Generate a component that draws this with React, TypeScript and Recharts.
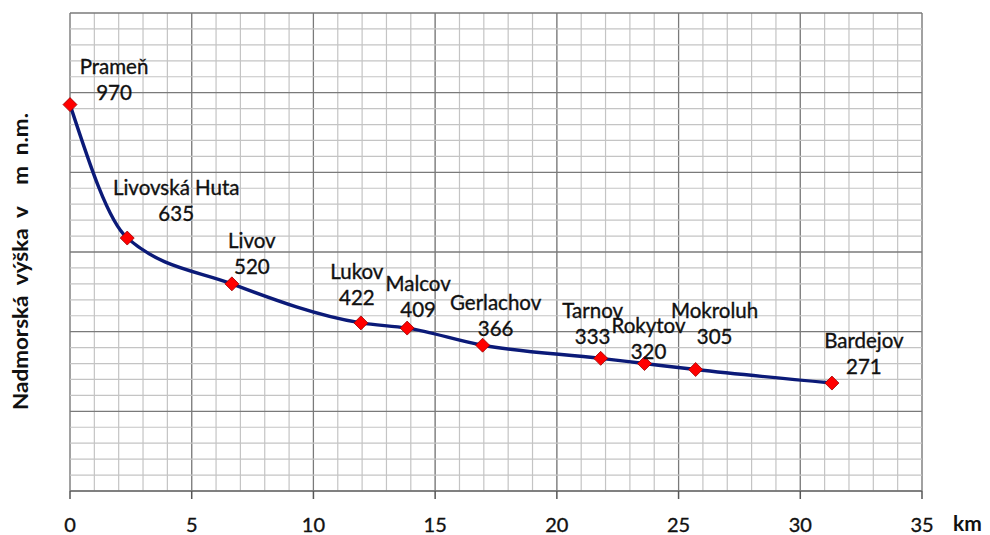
import React from "react";
import {
  LineChart,
  Line,
  XAxis,
  YAxis,
  CartesianGrid,
  LabelList,
  Label,
  ReferenceLine,
} from "recharts";

// ---- data ----
const placeNames = [
  "Prameň",
  "Livovská Huta",
  "Livov",
  "Lukov",
  "Malcov",
  "Gerlachov",
  "Tarnov",
  "Rokytov",
  "Mokroluh",
  "Bardejov",
];
const kmValues = [0, 2.35, 6.65, 11.95, 13.85, 16.95, 21.8, 23.6, 25.7, 31.3];
const altitudeValues = [970, 635, 520, 422, 409, 366, 333, 320, 305, 271];

const xMajorTicks = [0, 5, 10, 15, 20, 25, 30, 35];
const xMinorTicks = Array.from({ length: 36 }, (_, i) => i);
const yMajorTicks = [0, 200, 400, 600, 800, 1000, 1200];
const yMinorTicks = Array.from({ length: 31 }, (_, i) => i * 40).filter(
  (v) => v % 200 !== 0
);

// ---- label layout (pixel nudges, not data) ----
const labelNudges: [number, number][] = [
  [44, -39],
  [49, -51],
  [20, -44],
  [-4, -52],
  [11, -45],
  [13, -43],
  [-8, -48],
  [4, -39],
  [19, -60],
  [32, -43],
];

const chartData = placeNames.map((name, i) => ({
  name,
  km: kmValues[i],
  alt: altitudeValues[i],
}));

const FONT = "Lato, 'Open Sans', sans-serif";

const Diamond = (props: any) => {
  const { cx, cy } = props;
  if (cx == null || cy == null) return null;
  const r = 7;
  return (
    <path
      d={`M${cx},${cy - r}L${cx + r},${cy}L${cx},${cy + r}L${cx - r},${cy}Z`}
      fill="#ff0000"
      stroke="#9a0000"
      strokeWidth={0.8}
    />
  );
};

const textStyle = {
  fontFamily: FONT,
  fontSize: 20.5,
  fill: "#111",
  stroke: "#111",
  strokeWidth: 0.35,
};

const PointLabel = (props: any) => {
  const { x, y, index } = props;
  const d = chartData[index];
  const [dx, dy] = labelNudges[index] || [0, -40];
  return (
    <g>
      <text x={x + dx} y={y + dy} textAnchor="middle" dominantBaseline="central" {...textStyle}>
        {d.name}
      </text>
      <text x={x + dx} y={y + dy + 26} textAnchor="middle" dominantBaseline="central" {...textStyle}>
        {d.alt}
      </text>
    </g>
  );
};

const Y_TITLE = "Nadmorská  výška  v    m  n.m.";

export default function App() {
  return (
    <div style={{ position: "absolute", left: 0, top: 0, width: 990, height: 535, background: "#fff" }}>
      <LineChart
        width={990}
        height={535}
        data={chartData}
        margin={{ top: 13, right: 68, bottom: 0, left: 70 }}
      >
        <XAxis
          xAxisId="minor"
          dataKey="km"
          type="number"
          domain={[0, 35]}
          ticks={xMinorTicks}
          hide
        />
        <CartesianGrid xAxisId="minor" horizontal={false} stroke="#c4c4c4" strokeWidth={1.2} />
        <CartesianGrid horizontal={false} stroke="#7a7a7a" strokeWidth={1.2} />
        <XAxis
          dataKey="km"
          type="number"
          domain={[0, 35]}
          ticks={xMajorTicks}
          height={44}
          tickSize={8}
          tickMargin={19}
          axisLine={{ stroke: "#777", strokeWidth: 1.5 }}
          tickLine={{ stroke: "#555", strokeWidth: 1.5 }}
          tick={{ fill: "#111", stroke: "#111", strokeWidth: 0.35, fontSize: 20, fontFamily: FONT }}
          interval={0}
        >
          <Label
            content={(p: any) => {
              const vb = p.viewBox;
              return (
                <text
                  x={vb.x + vb.width + 31}
                  y={522}
                  dominantBaseline="central"
                  fontFamily={FONT}
                  fontWeight="bold"
                  fontSize={21}
                  fill="#111"
                >
                  km
                </text>
              );
            }}
          />
        </XAxis>
        <YAxis type="number" domain={[0, 1200]} ticks={yMajorTicks} hide />
        {yMinorTicks.map((v) => (
          <ReferenceLine key={"mn" + v} y={v} stroke="#c4c4c4" strokeWidth={1.2} />
        ))}
        {yMajorTicks.map((v) => (
          <ReferenceLine key={"mj" + v} y={v} stroke="#7a7a7a" strokeWidth={1.3} />
        ))}
        <Line
          dataKey="alt"
          type="monotone"
          stroke="#0b1a78"
          strokeWidth={3.4}
          dot={<Diamond />}
          activeDot={false}
          isAnimationActive={false}
        >
          <LabelList dataKey="alt" content={<PointLabel />} />
        </Line>
      </LineChart>
      <svg
        width={990}
        height={535}
        style={{ position: "absolute", left: 0, top: 0, pointerEvents: "none" }}
      >
        <text
          x={19}
          y={261.5}
          transform="rotate(-90 19 261.5)"
          textAnchor="middle"
          dominantBaseline="central"
          fontFamily={FONT}
          fontWeight="bold"
          fontSize={21}
          fill="#111"
          textLength={297}
          lengthAdjust="spacingAndGlyphs"
          style={{ whiteSpace: "pre" }}
        >
          {Y_TITLE}
        </text>
      </svg>
    </div>
  );
}
